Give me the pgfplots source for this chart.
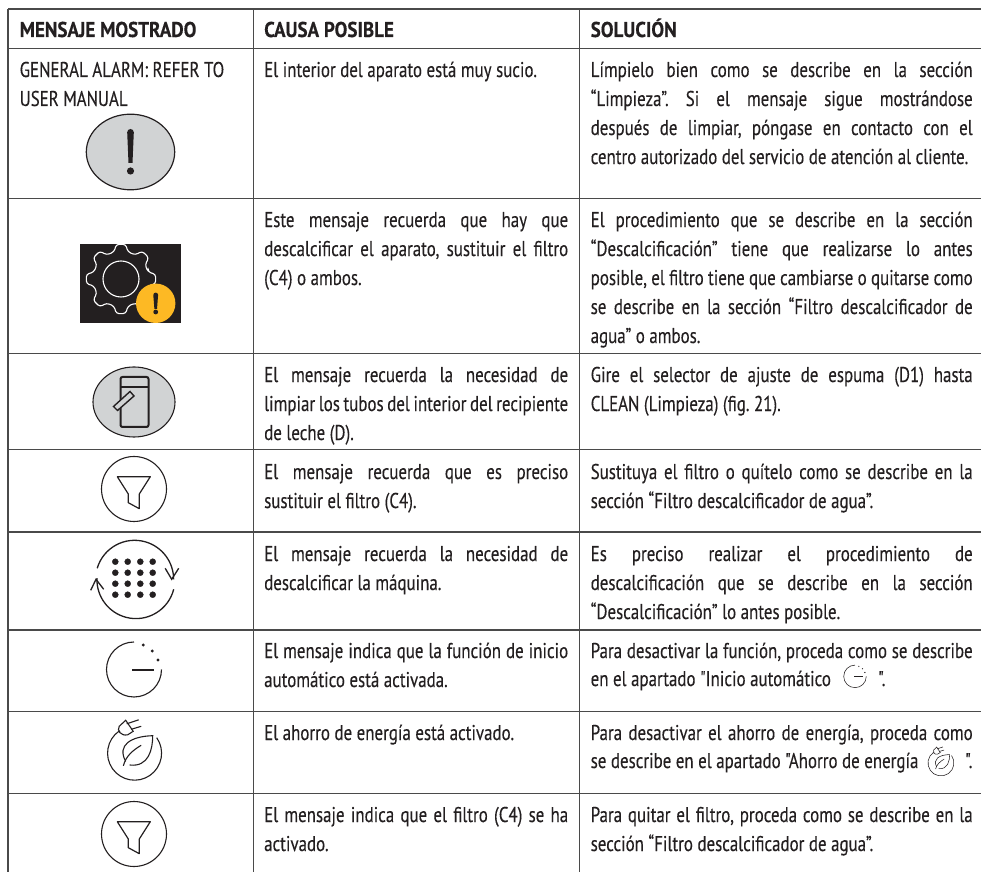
\documentclass[border=0pt]{standalone}
\usepackage{pgfplots}
\pgfplotsset{compat=1.18}
\usepackage{fontspec}
\setmainfont[FakeStretch=0.79,FakeBold=0.25,BoldFeatures={FakeStretch=0.89,FakeBold=0.3}]{PT Sans}
\newfontfamily\mq[FakeStretch=0.79,FakeBold=0.25]{PT Sans}
\definecolor{ink}{HTML}{231F20}
\definecolor{rule}{HTML}{4A4A4A}
\definecolor{icongrey}{HTML}{D1D3D4}
\definecolor{amber}{HTML}{FDB924}
\newcommand{\tl}[3]{\node[anchor=base west,inner sep=0pt,text=ink] at (axis cs:#1,#2) {#3};}
\newcommand{\jl}[4]{\node[anchor=base west,inner sep=0pt,text=ink] at (axis cs:#1,#2) {\makebox[#3pt][s]{#4}};}
\newcommand{\clockicon}[1]{%
 \draw[ink,line width=#1] (0,-28) arc[start angle=-90,end angle=-360,radius=27.5];
 \draw[ink,line width=#1] (-1.7,0) -- (20,0);
 \fill[ink] (9.3,-25) circle[radius=1.6] (18.3,-19) circle[radius=1.6] (24,-10) circle[radius=1.6];}
\newcommand{\ecoicon}[1]{%
 \draw[ink,line width=#1] (22,-15.6) arc[start angle=-35,end angle=235,radius=27];
 \draw[ink,line width=#1] (-14.7,-21) -- (-15.5,-22.5);
 \draw[ink,line width=#1] (-7,-18.5) .. controls (-14,-17) and (-18,-23) .. (-15.5,-27) -- (-9,-33) -- (-1.5,-22) -- cycle;
 \draw[ink,line width=#1] (-8,-29.5) -- (4,-33.5) (-3.5,-24) -- (6.5,-27);
 \draw[ink,line width=#1] (-9,8) .. controls (-18,-8) and (-4,-17) .. (18,-17.6) .. controls (18,-4) and (14,14) .. (-5,11.7);
 \draw[ink,line width=#1] (-11.3,12.5) .. controls (-9,3) and (-2,-3) .. (6.5,-8);}
\newcommand{\funnelicon}{%
 \draw[ink,line width=1.1pt] (0,0) circle[radius=32.5];
 \draw[ink,line width=1.2pt,line join=round] (-16.7,-12.3) -- (16.3,-12.3) -- (5.3,5) -- (5.3,19.7) -- (-5.7,13.7) -- (-5.7,5) -- cycle;}
\begin{document}
\frenchspacing
\begin{tikzpicture}
\path[use as bounding box] (0,0) rectangle (981pt,872pt);
\begin{axis}[scale only axis,width=981pt,height=872pt,xmin=0,xmax=981,ymin=0,ymax=872,y dir=reverse,hide axis,clip=false]
% rules
\addplot[rule,line width=1.2pt] coordinates {(8,9) (981,9)};
\addplot[rule,line width=1.1pt] coordinates {(8,48.5) (981,48.5)};
\addplot[rule,line width=1.1pt] coordinates {(8,198.3) (981,198.3)};
\addplot[rule,line width=1.3pt] coordinates {(8,353.3) (981,353.3)};
\addplot[rule,line width=1.3pt] coordinates {(8,449.3) (981,449.3)};
\addplot[rule,line width=1.1pt] coordinates {(8,532) (981,532)};
\addplot[rule,line width=1.1pt] coordinates {(8,630) (981,630)};
\addplot[rule,line width=1.3pt] coordinates {(8,711.7) (981,711.7)};
\addplot[rule,line width=1.3pt] coordinates {(8,793.3) (981,793.3)};
\addplot[rule,line width=1.3pt] coordinates {(8,9) (8,872)};
\addplot[rule,line width=1.3pt] coordinates {(253.3,9) (253.3,872)};
\addplot[rule,line width=1.3pt] coordinates {(579.3,9) (579.3,872)};
% header
\fontsize{21.4}{25}\selectfont
\node[anchor=base west,inner sep=0pt,text=ink,font=\bfseries] at (axis cs:19.5,37) {MENSAJE MOSTRADO};
\node[anchor=base west,inner sep=0pt,text=ink,font=\bfseries] at (axis cs:264,37) {CAUSA POSIBLE};
\node[anchor=base west,inner sep=0pt,text=ink,font=\bfseries] at (axis cs:590.5,37) {SOLUCIÓN};
% column 1
\tl{19.5}{77}{GENERAL ALARM: REFER TO}
\tl{19.5}{106}{USER MANUAL}
% column 2
\tl{264}{77}{El interior del aparato está muy sucio.}
\jl{264}{227}{304}{Este mensaje recuerda que hay que}
\jl{264}{256}{304}{descalcificar el aparato, sustituir el filtro}
\tl{264}{285}{(C4) o ambos.}
\jl{264}{382}{304}{El mensaje recuerda la necesidad de}
\jl{264}{411}{304}{limpiar los tubos del interior del recipiente}
\tl{264}{440}{de leche (D).}
\jl{264}{479}{304}{El mensaje recuerda que es preciso}
\tl{264}{508}{sustituir el filtro (C4).}
\jl{264}{561}{304}{El mensaje recuerda la necesidad de}
\tl{264}{590}{descalcificar la máquina.}
\jl{264}{658}{304}{El mensaje indica que la función de inicio}
\tl{264}{687}{automático está activada.}
\tl{264}{740}{El ahorro de energía está activado.}
\jl{264}{822}{304}{El mensaje indica que el filtro (C4) se ha}
\tl{264}{851}{activado.}
% column 3
\jl{590.5}{77}{382}{Límpielo bien como se describe en la sección}
\jl{590.5}{106}{382}{“Limpieza”. Si el mensaje sigue mostrándose}
\jl{590.5}{135}{382}{después de limpiar, póngase en contacto con el}
\tl{590.5}{164}{centro autorizado del servicio de atención al cliente.}
\jl{590.5}{227}{382}{El procedimiento que se describe en la sección}
\jl{590.5}{256}{382}{“Descalcificación” tiene que realizarse lo antes}
\jl{590.5}{285}{382}{posible, el filtro tiene que cambiarse o quitarse como}
\jl{590.5}{314}{382}{se describe en la sección “Filtro descalcificador de}
\tl{590.5}{343}{agua” o ambos.}
\jl{590.5}{382}{382}{Gire el selector de ajuste de espuma (D1) hasta}
\tl{590.5}{411}{CLEAN (Limpieza) (fig. 21).}
\jl{590.5}{479}{382}{Sustituya el filtro o quítelo como se describe en la}
\tl{590.5}{508}{sección “Filtro descalcificador de agua”.}
\jl{590.5}{561}{382}{Es preciso realizar el procedimiento de}
\jl{590.5}{590}{382}{descalcificación que se describe en la sección}
\tl{590.5}{619}{“Descalcificación” lo antes posible.}
\jl{590.5}{658}{382}{Para desactivar la función, proceda como se describe}
\tl{590.5}{686}{\mq en el apartado "Inicio automático}
\tl{878}{686}{\mq ".}
\jl{590.5}{740}{382}{Para desactivar el ahorro de energía, proceda como}
\tl{590.5}{768}{\mq se describe en el apartado "Ahorro de energía}
\tl{965}{768}{\mq ".}
\jl{590.5}{822}{382}{Para quitar el filtro, proceda como se describe en la}
\tl{590.5}{851}{sección “Filtro descalcificador de agua”.}
% dots of the descaling icon
\addplot[only marks,mark=*,mark size=3pt,ink,mark options={fill=ink,draw=ink}] coordinates {
(115.3,561.7)(127.7,561.7)(140.3,561.7)(152.7,561.7)
(115.3,572.7)(127.7,572.7)(140.3,572.7)(152.7,572.7)
(115.3,583.7)(127.7,583.7)(140.3,583.7)(152.7,583.7)
(115.3,594.7)(127.7,594.7)(140.3,594.7)(152.7,594.7)};
\end{axis}
\begin{scope}[x=1pt,y=-1pt,yshift=872pt]
% 1 alarm
\draw[ink,line width=1.2pt,fill=icongrey] (130.5,152) ellipse[x radius=44.2,y radius=37.8];
\fill[ink] (127.2,132.3) arc[start angle=180,end angle=360,radius=3.3] -- (132.5,163) -- (128.5,163) -- cycle;
\fill[ink] (130.5,171) circle[radius=3.6];
% 2 gear
\fill[ink] (80,244) rectangle (181,323);
\begin{scope}
\clip (80,244) rectangle (181,323);
\begin{scope}[shift={(121,279)}]
\draw[white,line width=1.1pt,rounded corners=3pt] (-14:28)
 \foreach \a in {0,45,...,315}{ -- (\a-14:28) -- (\a-8:35) -- (\a+8:35) -- (\a+14:28)} -- cycle;
\draw[white,line width=1.1pt] (0,0) circle[radius=18];
\end{scope}
\end{scope}
\fill[amber] (155.7,303.3) circle[radius=19.7];
\fill[ink] (153.3,295) arc[start angle=180,end angle=360,radius=2.4] -- (157,309) -- (154.4,309) -- cycle;
\fill[ink] (155.7,312) circle[radius=2.4];
% 3 jug
\draw[ink,line width=1.1pt,fill=icongrey] (134,402) ellipse[x radius=41,y radius=35];
\draw[ink,line width=2pt,rounded corners=2pt] (120.5,377) rectangle (148.5,427);
\draw[ink,line width=1.5pt] (120.5,387) -- (148.5,387);
\draw[ink,line width=1.4pt,fill=icongrey] (113.5,406.5) -- (130,391.5) -- (134,396) -- (117.5,410.5) -- cycle;
% 4, 8 funnel
\begin{scope}[shift={(134,489)}]\funnelicon\end{scope}
\begin{scope}[shift={(134,834)}]\funnelicon\end{scope}
% 5 cycle
\begin{scope}[shift={(134.7,579.3)}]
\draw[ink,line width=1.3pt] (-37.5,-11) arc[start angle=-163.6,end angle=0,radius=39];
\draw[ink,line width=1.3pt] (39,10) arc[start angle=14.4,end angle=182,radius=39];
\draw[ink,line width=1.3pt,line join=miter] (30.5,-11) -- (37,0) -- (44,-11);
\draw[ink,line width=1.3pt,line join=miter] (-44,11) -- (-38.7,0) -- (-31,10);
\end{scope}
% 6, 7 large
\begin{scope}[shift={(134,670)}]\clockicon{1.1pt}\end{scope}
\begin{scope}[shift={(134.7,753.3)}]\ecoicon{1.1pt}\end{scope}
% inline
\begin{scope}[shift={(855,676.6)},scale=0.41]\clockicon{0.55pt}\end{scope}
\begin{scope}[shift={(941,763)},scale=0.48]\ecoicon{0.55pt}\end{scope}
\end{scope}
\end{tikzpicture}
\end{document}
